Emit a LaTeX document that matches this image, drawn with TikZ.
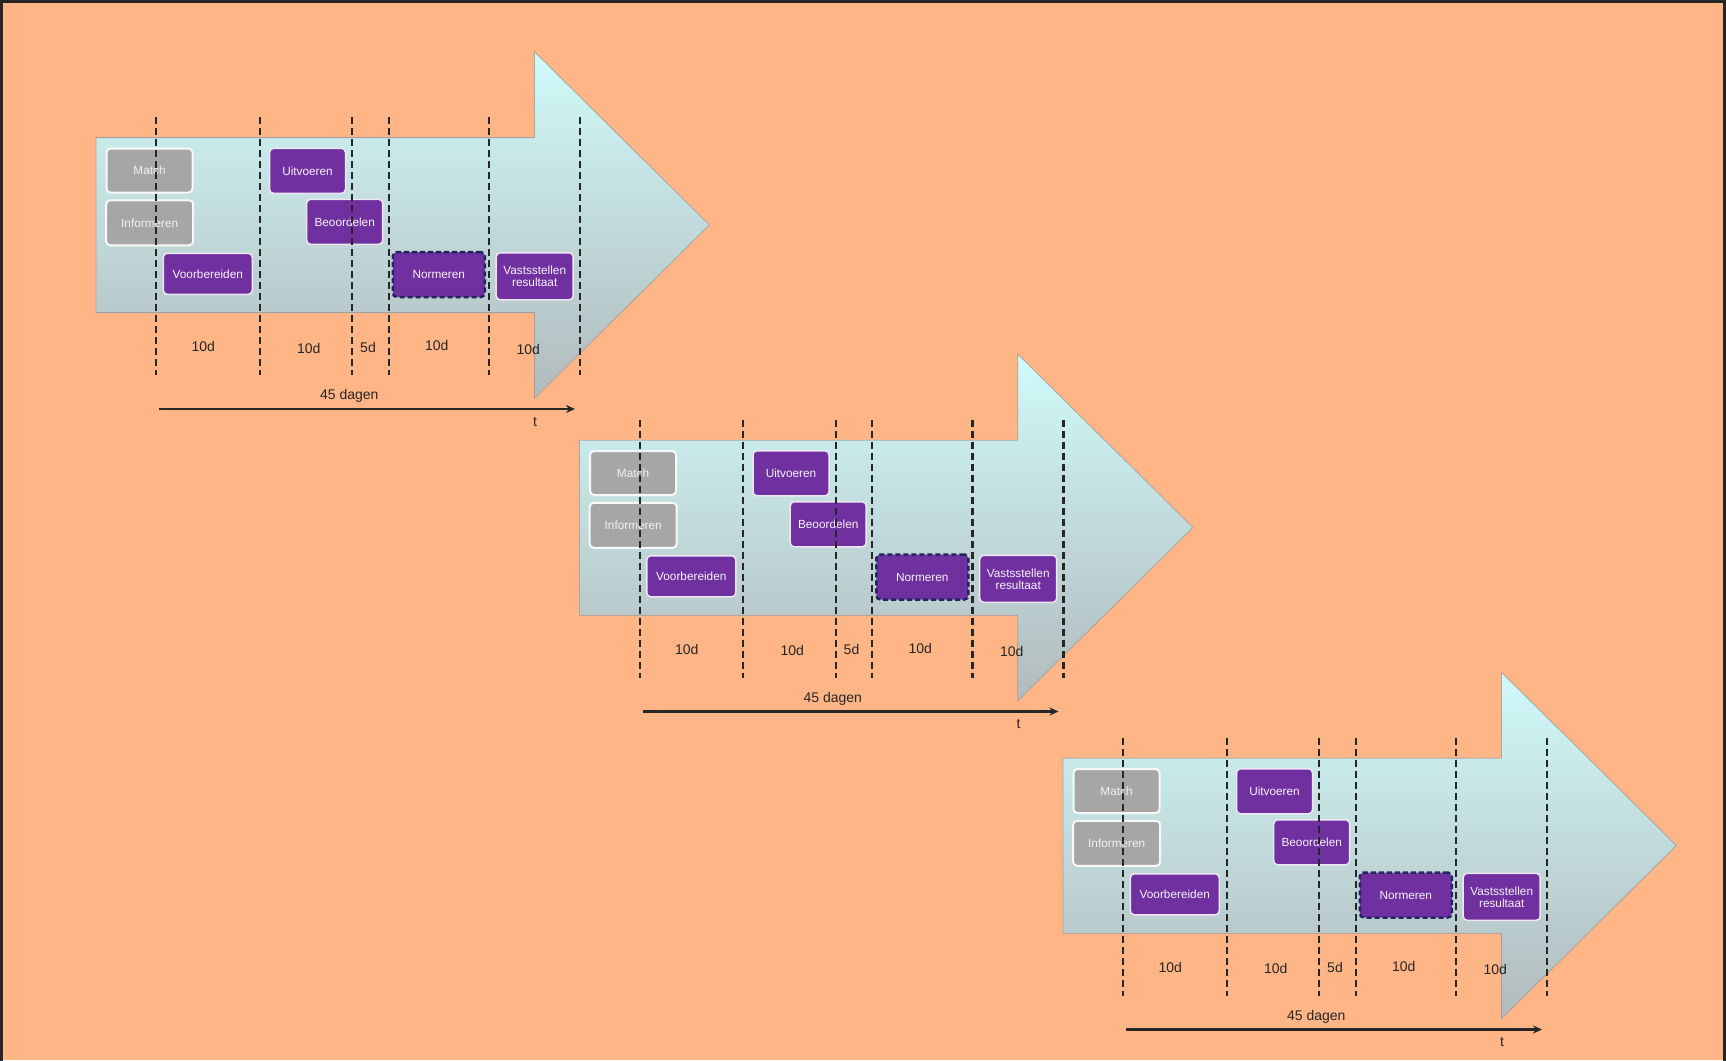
\documentclass[tikz,border=0pt]{standalone}
\usepackage{fontspec}
\setmainfont{Liberation Sans}
\usetikzlibrary{arrows.meta}
\tikzset {>=Stealth}
\definecolor{perzik}{RGB}{255,181,133}
\definecolor{paars}{RGB}{112,48,160}
\definecolor{grijs}{RGB}{166,166,166}
\definecolor{lichtblauw}{RGB}{208,250,250}
\definecolor{grijsblauw}{RGB}{178,186,188}
\definecolor{marine}{RGB}{30,40,95}

\begin{document}
\begin{tikzpicture}[x=1pt,y=-1pt,
  fase/.style={rounded corners=4pt,align=center,inner sep=0pt,font=\fontsize{11.8}{12}\selectfont},
  paarsbox/.style={fase,fill=paars,draw=paars!12,line width=1.5pt,text=paars!6},
  grijsbox/.style={fase,fill=grijs,draw=white!92!grijs,line width=2pt,text=white!85!grijs},
  normbox/.style={fase,fill=paars,draw=marine,line width=2.5pt,dash pattern=on 5pt off 3pt,text=paars!6},
  grens/.style={line width=2.2pt,dash pattern=on 7pt off 4pt,black!85},
  dag/.style={font=\fontsize{14}{16}\selectfont,black!85}]
\useasboundingbox (0,0) rectangle (1726,1060);
\fill[perzik] (0,0) rectangle (1726,1060);
\draw[line width=2.5pt,black!85] (1.5,1070) -- (1.5,1.5) -- (1724.5,1.5) -- (1724.5,1070);
\foreach \dx/\dy/\k in {0/0/a,483.5/302.5/b,967/620.5/c}{
\begin{scope}[shift={(\dx,\dy)}]
% grote pijl
\filldraw[draw=black!35,line width=0.6pt,top color=lichtblauw,bottom color=grijsblauw]
  (96,137.7) -- (534.3,137.7) -- (534.3,51.7) -- (709.3,225) -- (534.3,398.3) -- (534.3,312.7) -- (96,312.7) -- cycle;
% fasen
\node[grijsbox,minimum width=86pt,minimum height=44pt] (match\k) at (149.5,170.5) {Match};
\node[grijsbox,minimum width=87pt,minimum height=45pt] (inform\k) at (149.7,222.8) {Informeren};
\node[paarsbox,minimum width=89pt,minimum height=41pt] (voorb\k) at (207.8,273.8) {Voorbereiden};
\node[paarsbox,minimum width=76pt,minimum height=45pt] (uitv\k) at (307.5,170.8) {Uitvoeren};
\node[paarsbox,minimum width=76pt,minimum height=45pt] (beoord\k) at (344.7,221.8) {Beoordelen};
\node[normbox,minimum width=92pt,minimum height=45pt] (norm\k) at (438.8,274.5) {Normeren};
\node[paarsbox,minimum width=77pt,minimum height=47pt] (vast\k) at (534.7,276.3) {Vastsstellen\\resultaat};
% grenzen
\foreach \x in {156.3,259.8,352.3,388.6,489,580}
  \draw[grens] (\x,117) -- (\x,375);
\node[dag] (dA\k) at (203.3,346.5) {10d};
\node[dag] (dB\k) at (308.7,348.3) {10d};
\node[dag] (dC\k) at (368,347.3) {5d};
\node[dag] (dD\k) at (436.7,345.7) {10d};
\node[dag] (dE\k) at (528.3,349) {10d};
% tijdas
\coordinate (tl\k) at (159,409);
\coordinate (tr\k) at (575,409);
\draw[-{Stealth[length=9pt,width=8pt]},line width=2.2pt,black!85] (tl\k) -- (tr\k);
\node[dag,anchor=base] (duur\k) at (349.3,399.5) {45 dagen};
\node[dag] (t\k) at (535,421.7) {t};
\end{scope}}
\end{tikzpicture}
\end{document}
